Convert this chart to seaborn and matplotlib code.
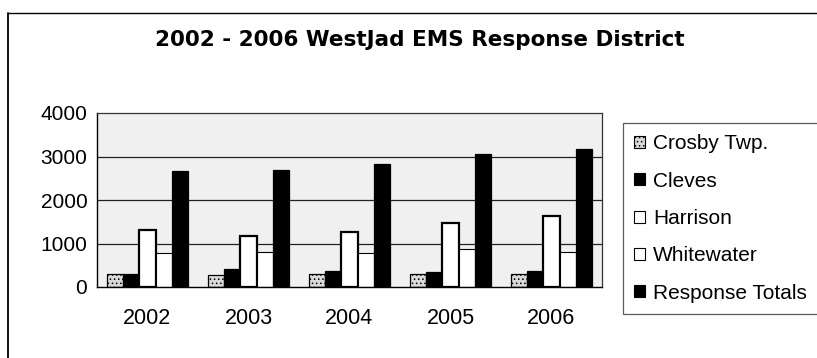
import matplotlib
matplotlib.use("Agg")
import matplotlib.pyplot as plt
import matplotlib.patches as mpatches
import matplotlib.lines as mlines
import seaborn as sns
import pandas as pd

years = ["2002", "2003", "2004", "2005", "2006"]
series = ["Crosby Twp.", "Cleves", "Harrison", "Whitewater", "Response Totals"]
crosby = [290, 265, 310, 310, 300]
cleves = [290, 415, 360, 350, 360]
harrison = [1300, 1175, 1270, 1470, 1640]
whitewater = [775, 815, 790, 870, 810]
totals = [2660, 2690, 2830, 3060, 3170]
yticks = [0, 1000, 2000, 3000, 4000]
title = "2002 - 2006 WestJad EMS Response District"

values = [crosby, cleves, harrison, whitewater, totals]
rows = []
for s, vals in zip(series, values):
    for y, v in zip(years, vals):
        rows.append({"Year": y, "Series": s, "Value": v})
df = pd.DataFrame(rows)

sns.set_theme(style="white")
plt.rcParams["font.family"] = ["Liberation Sans", "DejaVu Sans"]
plt.rcParams["hatch.linewidth"] = 0.6
plt.rcParams["hatch.color"] = "#555555"
plt.rcParams["text.color"] = "black"
plt.rcParams["xtick.labelcolor"] = "black"
plt.rcParams["ytick.labelcolor"] = "black"

W, H = 817, 358
fig = plt.figure(figsize=(W / 100, H / 100), dpi=100)
fig.patch.set_facecolor("white")

# outer chart frame (left and top visible in the scan)
fig.add_artist(mlines.Line2D([8 / W, 8 / W], [0, 1 - 13 / H], transform=fig.transFigure,
                             color="black", linewidth=1.3))
fig.add_artist(mlines.Line2D([8 / W, 1], [1 - 13 / H, 1 - 13 / H], transform=fig.transFigure,
                             color="black", linewidth=1.0))

ax = fig.add_axes([97 / W, 1 - 287 / H, (602 - 97) / W, (287 - 113) / H])
fills = ["#d9d9d9", "#000000", "#ffffff", "#ffffff", "#000000"]
sns.barplot(data=df, x="Year", y="Value", hue="Series", hue_order=series, order=years,
            palette=fills, width=0.8, saturation=1, ax=ax, legend=False)

edge_w = [0.9, 0.9, 1.6, 0.8, 0.9]
hatches = ["....", "", "", "", ""]
for i, container in enumerate(ax.containers):
    for bar in container:
        bar.set_edgecolor("black")
        bar.set_linewidth(edge_w[i])
        bar.set_hatch(hatches[i])

ax.set_facecolor("#f0f0f0")
ax.set_ylim(0, 4000)
ax.set_xlim(-0.5, 4.5)
ax.set_yticks(yticks)
ax.set_yticklabels([str(t) for t in yticks], fontsize=15, color="black")
ax.set_xticks(range(len(years)))
ax.set_xticklabels(years, fontsize=15.5, color="black")
ax.tick_params(axis="x", length=0, pad=15)
ax.tick_params(axis="y", length=4, width=1, direction="out", color="black", pad=3)
ax.set_xticks([0.5, 1.5, 2.5, 3.5], minor=True)
ax.tick_params(axis="x", which="minor", length=4, width=1, direction="out", color="black")
for t in yticks[1:4]:
    ax.axhline(t, color="#222222", linewidth=0.9, zorder=0.5)
ax.set_axisbelow(True)
ax.set_xlabel("")
ax.set_ylabel("")
for side in ["left", "bottom"]:
    ax.spines[side].set_color("black")
    ax.spines[side].set_linewidth(1.0)
for side in ["top", "right"]:
    ax.spines[side].set_color("#333333")
    ax.spines[side].set_linewidth(0.9)

fig.text(420 / W, 1 - 40 / H, title, ha="center", va="center", color="black",
         fontsize=15.5, fontweight="bold", family=["DejaVu Sans"])

handles = [mpatches.Patch(facecolor=fills[i], edgecolor="black", hatch=hatches[i],
                          linewidth=0.8, label=series[i]) for i in range(len(series))]
leg = fig.legend(handles=handles, loc="upper left",
                 bbox_to_anchor=(623 / W, 1 - 123 / H),
                 frameon=True, fontsize=15, handlelength=0.5, handleheight=0.5,
                 handletextpad=0.4, labelspacing=0.88, borderpad=0.55,
                 borderaxespad=0, fancybox=False, labelcolor="black")
leg.get_frame().set_edgecolor("#333333")
leg.get_frame().set_linewidth(0.9)

fig.savefig("out.png", dpi=100, facecolor="white")
